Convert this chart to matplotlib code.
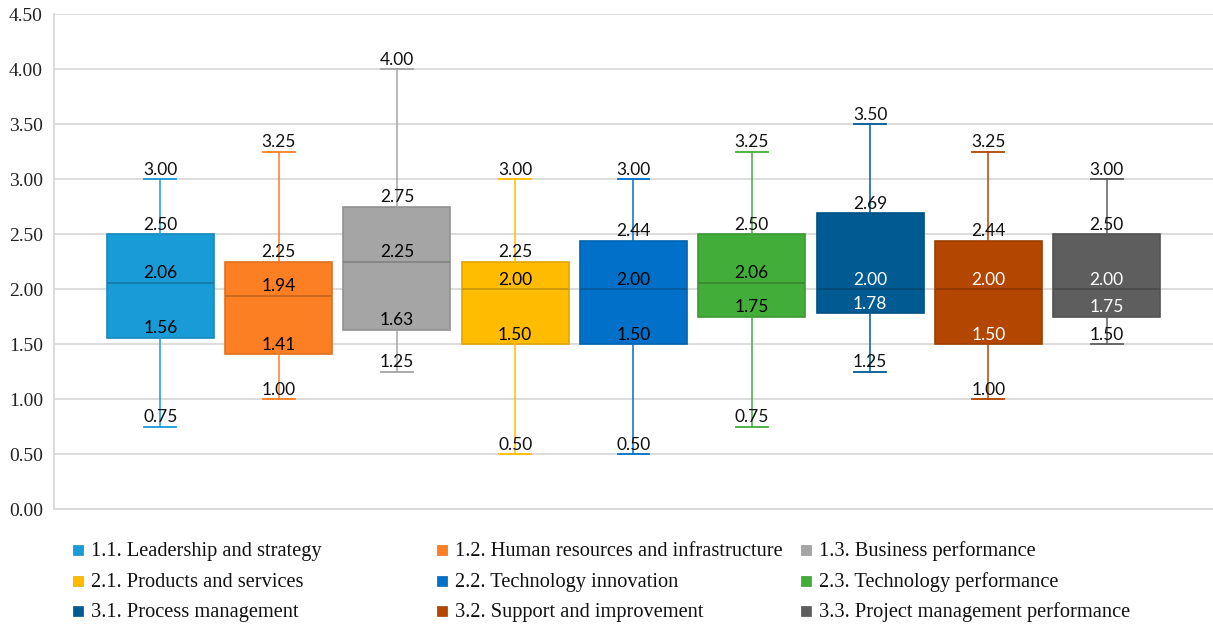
import matplotlib
matplotlib.use('Agg')
import matplotlib.pyplot as plt
from matplotlib.patches import Rectangle
from matplotlib.colors import to_rgb

categories = ["1.1. Leadership and strategy", "1.2. Human resources and infrastructure",
              "1.3. Business performance", "2.1. Products and services",
              "2.2. Technology innovation", "2.3. Technology performance",
              "3.1. Process management", "3.2. Support and improvement",
              "3.3. Project management performance"]
mins = [0.75, 1.00, 1.25, 0.50, 0.50, 0.75, 1.25, 1.00, 1.50]
q1s = [1.56, 1.41, 1.63, 1.50, 1.50, 1.75, 1.78, 1.50, 1.75]
medians = [2.06, 1.94, 2.25, 2.00, 2.00, 2.06, 2.00, 2.00, 2.00]
q3s = [2.50, 2.25, 2.75, 2.25, 2.44, 2.50, 2.69, 2.44, 2.50]
maxs = [3.00, 3.25, 4.00, 3.00, 3.00, 3.25, 3.50, 3.25, 3.00]
yticks = [0.0, 0.5, 1.0, 1.5, 2.0, 2.5, 3.0, 3.5, 4.0, 4.5]

colors = ["#189BD7", "#FD7F23", "#A5A5A5", "#FFBC00", "#0070C8",
          "#43AD3A", "#005B93", "#B34600", "#5E5E5E"]
inner_label_colors = ["black"] * 6 + ["white"] * 3


def darker(c, f=0.85):
    r, g, b = to_rgb(c)
    return (r * f, g * f, b * f)


fig = plt.figure(figsize=(12.13, 6.25), dpi=100)
W, H = 1213, 625
ax = fig.add_axes([54 / W, (625 - 509) / H, (1213 - 54) / W, (509 - 14.3) / H])

positions = list(range(len(categories)))
stats = []
for i in positions:
    stats.append(dict(med=medians[i], q1=q1s[i], q3=q3s[i],
                      whislo=mins[i], whishi=maxs[i], fliers=[], label=categories[i]))

bp = ax.bxp(stats, positions=positions, widths=0.905, patch_artist=True,
            showfliers=False, capwidths=0.27, manage_ticks=False)

for i, c in enumerate(colors):
    bp['boxes'][i].set_facecolor(c)
    bp['boxes'][i].set_edgecolor(darker(c, 0.88))
    bp['boxes'][i].set_linewidth(1.2)
    bp['medians'][i].set_color(darker(c, 0.8))
    bp['medians'][i].set_linewidth(1.3)
    for w in bp['whiskers'][2 * i:2 * i + 2]:
        w.set_color(c)
        w.set_linewidth(1.1)
    for cp in bp['caps'][2 * i:2 * i + 2]:
        cp.set_color(c)
        cp.set_linewidth(1.3)

label_font = dict(family=['Lato', 'DejaVu Sans'], fontsize=12.5)
for i in positions:
    for v, col in [(maxs[i], '#111111'), (q3s[i], '#111111'), (medians[i], inner_label_colors[i]),
                   (q1s[i], inner_label_colors[i]), (mins[i], '#111111')]:
        ax.annotate(f"{v:.2f}", (i, v), xytext=(0, 3.2), textcoords='offset points',
                    ha='center', va='baseline', color=col, **label_font)

ax.set_xlim(-0.9, 8.9)
ax.set_ylim(0, 4.5)
ax.set_yticks(yticks)
ax.set_yticklabels([f"{t:.2f}" for t in yticks], family=['Liberation Serif', 'DejaVu Serif'],
                   fontsize=14, color='#222222')
ax.set_xticks([])
ax.tick_params(axis='y', length=0, pad=8)
ax.grid(axis='y', color='#d9d9d9', linewidth=1.3)
ax.set_axisbelow(True)
for s in ['top', 'right']:
    ax.spines[s].set_visible(False)
ax.spines['left'].set_color('#d9d9d9')
ax.spines['bottom'].set_color('#d9d9d9')
ax.spines['left'].set_linewidth(1.3)
ax.spines['bottom'].set_linewidth(1.3)

# legend (3 columns, row-major order)
col_x = [73, 437, 801]
row_y = [550, 581, 611]
for i, (name, c) in enumerate(zip(categories, colors)):
    r, k = divmod(i, 3)
    x0 = col_x[k]
    y0 = row_y[r]
    fig.patches.append(Rectangle((x0 / W, (H - y0 - 5) / H), 10 / W, 10 / H,
                                 transform=fig.transFigure, facecolor=c,
                                 edgecolor=darker(c, 0.9), linewidth=0.5))
    fig.text((x0 + 18) / W, (H - y0 - 6) / H, name, ha='left', va='baseline',
             family=['Liberation Serif', 'DejaVu Serif'], fontsize=14.7, color='#111111')

fig.savefig('out.png', dpi=100)
